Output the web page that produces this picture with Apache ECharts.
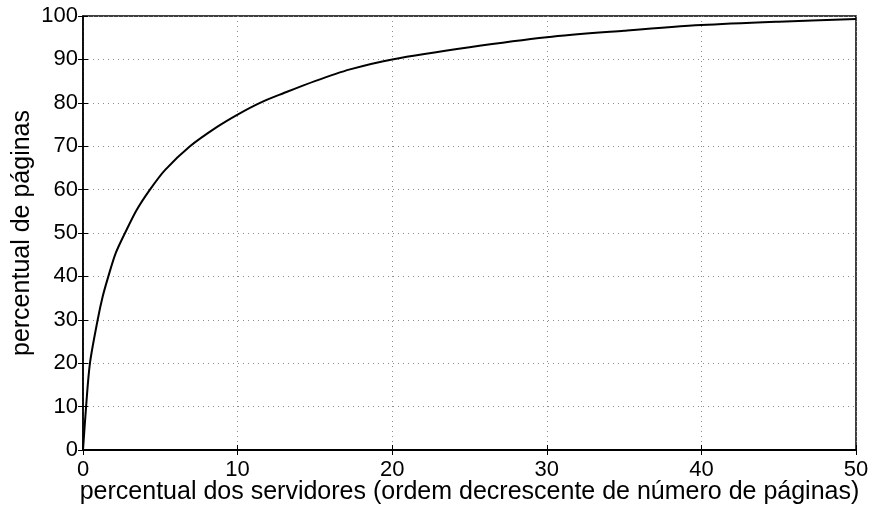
<!DOCTYPE html>
<html>
<head>
<meta charset="utf-8">
<script src="https://cdn.jsdelivr.net/npm/echarts@6/dist/echarts.min.js"></script>
<style>
  html, body { margin: 0; padding: 0; background: #fff; }
  #chart { width: 872px; height: 506px; }
</style>
</head>
<body>
<div id="chart"></div>
<script>
// Cumulative share of pages vs. share of servers (servers sorted by page count)
const serverPct = [0, 0.2, 0.45, 0.95, 1.27, 1.64, 2.11, 2.72, 3.47, 4.33, 5.3, 6.92, 8.65, 10, 11.45, 12.96, 15, 17.27, 20, 25, 30, 35, 40, 45, 50];
const pagePct   = [0, 10, 20, 30, 35.3, 40, 45.3, 50, 55.3, 60, 64.5, 70, 74.4, 77.3, 80, 82.2, 85.0, 87.7, 90, 92.8, 95.1, 96.6, 97.9, 98.7, 99.3];

const xTicks = [0, 10, 20, 30, 40, 50];
const yTicks = [0, 10, 20, 30, 40, 50, 60, 70, 80, 90, 100];

const FONT = 'Liberation Sans, Arial, Helvetica, sans-serif';
const chart = echarts.init(document.getElementById('chart'), null, { renderer: 'canvas' });

const gridLine = { show: true, lineStyle: { color: '#8c8c8c', type: [1, 4], width: 1 } };
const tickIn = { show: true, inside: true, length: 5, lineStyle: { color: '#000', width: 1 } };

chart.setOption({
  animation: false,
  backgroundColor: '#fff',
  grid: {
    left: 83, top: 16, right: 16, bottom: 56,
    outerBoundsMode: 'none', containLabel: false,
    show: true, borderColor: '#000', borderWidth: 1.5
  },
  xAxis: [{
    type: 'value', min: xTicks[0], max: xTicks[xTicks.length - 1], interval: 10,
    name: 'percentual dos servidores (ordem decrescente de número de páginas)',
    nameLocation: 'middle', nameGap: 30, nameMoveOverlap: false,
    nameTextStyle: { fontFamily: FONT, fontSize: 25, color: '#000' },
    axisLine: { show: true, lineStyle: { color: '#000', width: 2 } },
    axisTick: tickIn,
    axisLabel: { fontFamily: FONT, fontSize: 22, color: '#000', margin: 9 },
    splitLine: gridLine
  }, {
    type: 'value', position: 'top', min: 0, max: 50, interval: 10,
    axisLine: { show: false }, axisTick: tickIn, axisLabel: { show: false }, splitLine: { show: false }
  }],
  yAxis: [{
    type: 'value', min: yTicks[0], max: yTicks[yTicks.length - 1], interval: 10,
    name: 'percentual de páginas',
    nameLocation: 'middle', nameGap: 48, nameMoveOverlap: false,
    nameTextStyle: { fontFamily: FONT, fontSize: 25, color: '#000' },
    axisLine: { show: true, lineStyle: { color: '#000', width: 1.5 } },
    axisTick: tickIn,
    axisLabel: { fontFamily: FONT, fontSize: 22, color: '#000', margin: 5 },
    splitLine: gridLine
  }, {
    type: 'value', position: 'right', min: 0, max: 100, interval: 10,
    axisLine: { show: false }, axisTick: tickIn, axisLabel: { show: false }, splitLine: { show: false }
  }],
  series: [{
    type: 'line',
    data: serverPct.map((x, i) => [x, pagePct[i]]),
    showSymbol: false,
    smooth: 0.3,
    lineStyle: { color: '#000', width: 2 },
    z: 5
  }]
});
</script>
</body>
</html>
